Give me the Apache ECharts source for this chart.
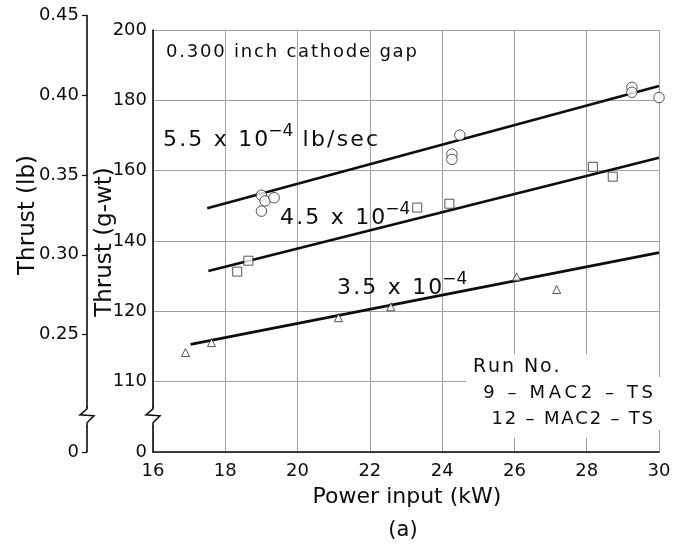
<!DOCTYPE html>
<html><head><meta charset="utf-8">
<script src="https://cdn.jsdelivr.net/npm/echarts@6/dist/echarts.min.js"></script>
<style>html,body{margin:0;padding:0;background:#fff}#c{width:691px;height:548px}</style>
</head><body><div id="c"></div>
<script>
// ---- data (power input kW, thrust g-wt) ----
const flow55 = [[19.0,153.0],[19.1,151.4],[19.35,152.3],[19.0,148.5],[24.49,170.1],[24.27,164.7],[24.27,163.2],[29.25,183.7],[29.25,182.3],[30.0,180.8]];
const flow45 = [[18.33,131.3],[18.64,134.4],[23.31,149.5],[24.2,150.6],[28.17,161.1],[28.72,158.3]];
const flow35 = [[16.9,108.3],[17.62,111.1],[21.13,118.2],[22.58,121.3],[26.06,129.8],[27.17,126.2]];
const fit55 = [[17.5,149.3],[30,184.1]];
const fit45 = [[17.53,131.5],[30,163.7]];
const fit35 = [[17.04,110.6],[30,136.7]];
// ---- axis ticks / labels ----
const xMin = 16, xMax = 30, xStep = 2;
const gMin = 80, gMax = 200, gStep = 20;
const gLabels = {80:'0',100:'110',120:'120',140:'140',160:'160',180:'180',200:'200'};
const gPerLb = 453.592;
const lbTicks = [0.25,0.30,0.35,0.40,0.45];
const lbBottom = gMin / gPerLb;
const lbTop = 0.45;

const FF = 'DejaVu Sans';
const INK = '#0d0d0d';
const GRID = '#a0a0a0';
const HAIR = '\u200A', THIN = '\u2009';
const sp = (s, c) => s.split('').join(c);

const chart = echarts.init(document.getElementById('c'), null, {renderer:'canvas'});

const marker = {color:'#fff', borderColor:'#2a2a2a', borderWidth:1};
const option = {
  backgroundColor:'#fff',
  animation:false,
  grid:[
    {left:153, right:32, top:30, bottom:96},
    {left:87, width:1, top:15.5, bottom:96}
  ],
  xAxis:[
    {gridIndex:0, type:'value', min:xMin, max:xMax, interval:xStep,
     axisLine:{show:true, onZero:false, lineStyle:{color:INK, width:1.6}},
     axisTick:{show:false},
     axisLabel:{fontSize:18, color:INK, fontFamily:FF, margin:10},
     splitLine:{show:true, lineStyle:{color:GRID, width:1}}},
    {gridIndex:1, type:'value', min:0, max:1, show:false}
  ],
  yAxis:[
    {gridIndex:0, type:'value', min:gMin, max:gMax, interval:gStep,
     axisLine:{show:true, onZero:false, lineStyle:{color:INK, width:1.6}},
     axisTick:{show:false},
     axisLabel:{fontSize:18, color:INK, fontFamily:FF, margin:6,
       formatter:v => gLabels[v] !== undefined ? gLabels[v] : ''},
     splitLine:{show:true, lineStyle:{color:GRID, width:1}}},
    {gridIndex:1, type:'value', min:lbBottom, max:lbTop,
     axisLine:{show:true, onZero:false, lineStyle:{color:INK, width:1.6}},
     axisTick:{show:true, inside:false, length:5, lineStyle:{color:INK, width:1.2},
       customValues:[lbBottom].concat(lbTicks)},
     axisLabel:{fontSize:18, color:INK, fontFamily:FF, margin:8,
       customValues:[lbBottom].concat(lbTicks),
       formatter:v => v < 0.2 ? '0' : v.toFixed(2)},
     splitLine:{show:false}}
  ],
  series:[
    {type:'line', data:fit55, symbol:'none', lineStyle:{color:INK, width:2.6}, z:3},
    {type:'line', data:fit45, symbol:'none', lineStyle:{color:INK, width:2.6}, z:3},
    {type:'line', data:fit35, symbol:'none', lineStyle:{color:INK, width:2.6}, z:3},
    {type:'scatter', data:flow55, symbol:'circle', symbolSize:10.5, itemStyle:marker, z:4},
    {type:'scatter', data:flow45, symbol:'rect', symbolSize:9, itemStyle:marker, z:4},
    {type:'scatter', data:flow35, symbol:'triangle', symbolSize:8, itemStyle:marker, z:4}
  ]
};
chart.setOption(option);

const xg = chart.convertToPixel({xAxisIndex:0}, xMin);
const xr = chart.convertToPixel({xAxisIndex:0}, xMax);
const xl = chart.convertToPixel({xAxisIndex:1}, 0);
const yb = chart.convertToPixel({yAxisIndex:0}, 90);
function brk(x, y){
  return [
    {type:'rect', shape:{x:x-4, y:y-9, width:8, height:18}, style:{fill:'#fff'}, z:10},
    {type:'polyline', shape:{points:[[x,y-10],[x,y-8],[x-7,y-2],[x+7,y-1],[x,y+6],[x,y+10]]},
     style:{stroke:INK, lineWidth:1.5, fill:null}, z:11}
  ];
}
function txt(x, y, text, size, extra){
  return {type:'text', x:x, y:y, z:12,
    style:Object.assign({text:text, fill:INK, font:size+'px "'+FF+'"', align:'left', verticalAlign:'middle'}, (extra||{}))};
}
function sciText(x, y, main, rest){
  return {type:'text', x:x, y:y, z:12,
    style:{text:'{a|'+sp(main,HAIR)+'}{s|−4}'+(rest?'{a|'+sp(rest,HAIR)+'}':''), align:'left', verticalAlign:'middle',
      rich:{
        a:{fontSize:22, fontFamily:FF, fill:INK, lineHeight:34},
        s:{fontSize:17, fontFamily:FF, fill:INK, lineHeight:14, verticalAlign:'top'}
      }}};
}
const g = [].concat(
  [{type:'rect', shape:{x:466, y:354, width:191, height:84}, style:{fill:'#fff'}, z:1},
   {type:'rect', shape:{x:xr-3, y:377, width:6, height:53}, style:{fill:'#fff'}, z:1}],
  brk(xg, yb), brk(xl, yb),
  [
    txt(166, 52, sp('0.300 inch cathode gap', HAIR), 18),
    sciText(163, 140, '5.5 x 10', ' lb/sec'),
    sciText(280, 218, '4.5 x 10', ''),
    sciText(337, 288, '3.5 x 10', ''),
    txt(473, 367, sp('Run No.', HAIR), 19),
    txt(653, 393, sp('9 – MAC2 – TS', THIN), 18, {align:'right'}),
    txt(653, 419, sp('12 – MAC2 – TS', HAIR), 18, {align:'right'}),
    txt(407, 497, 'Power input (kW)', 22, {align:'center'}),
    txt(403, 531, '(a)', 21, {align:'center'}),
    {type:'text', x:105, y:242, rotation:Math.PI/2, z:12,
     style:{text:'Thrust (g-wt)', fill:INK, font:'23px "'+FF+'"', align:'center', verticalAlign:'middle'}},
    {type:'text', x:28, y:215, rotation:Math.PI/2, z:12,
     style:{text:'Thrust (lb)', fill:INK, font:'23px "'+FF+'"', align:'center', verticalAlign:'middle'}}
  ]
);
chart.setOption({graphic:g});
</script></body></html>
